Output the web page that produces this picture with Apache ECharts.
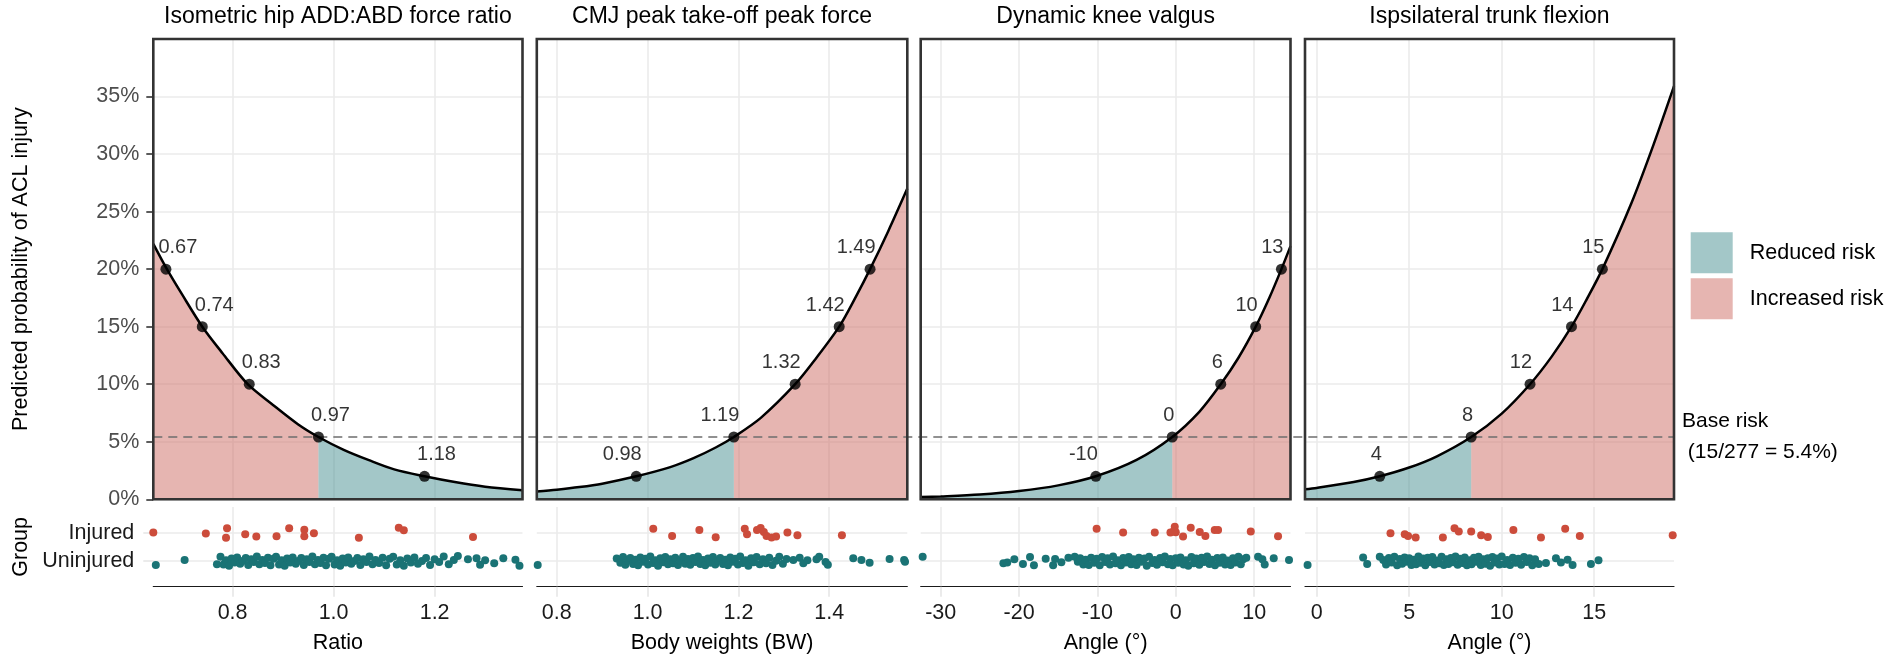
<!DOCTYPE html>
<html>
<head>
<meta charset="utf-8">
<script src="https://cdn.jsdelivr.net/npm/echarts@6/dist/echarts.min.js"></script>
<style>
  html, body { margin: 0; padding: 0; background: #fff; }
  #chart { width: 1890px; height: 655px; }
</style>
</head>
<body>
<div id="chart"></div>
<script>
// ---- data ----
const panelTitles = ["Isometric hip ADD:ABD force ratio", "CMJ peak take-off peak force", "Dynamic knee valgus", "Ispsilateral trunk flexion"];
const axisTitles = ["Ratio", "Body weights (BW)", "Angle (°)", "Angle (°)"];
const groupLabels = ["Uninjured", "Injured"];
const riskNames = ["Reduced risk", "Increased risk"];
const yTicks = [0, 5, 10, 15, 20, 25, 30, 35];
const baseRisk = 5.415;

const xMin = [0.643, 0.756, -32.55, -0.63];
const xMax = [1.374, 1.572, 14.64, 19.31];
const xTicks = [[0.8, 1.0, 1.2], [0.8, 1.0, 1.2, 1.4], [-30, -20, -10, 0, 10], [0, 5, 10, 15]];
const xDigits = [1, 1, 0, 0];
const cutX = [0.97, 1.19, -0.45, 8.35];
const increasedLeft = [true, false, false, false];

// predicted probability curves (%)
const curve1X = [0.643, 0.67, 0.70, 0.74, 0.78, 0.83, 0.88, 0.93, 0.97, 1.02, 1.07, 1.12, 1.18, 1.24, 1.30, 1.374];
const curve1Y = [22.2, 20.0, 17.8, 15.0, 12.7, 10.0, 8.2, 6.5, 5.415, 4.3, 3.4, 2.6, 2.0, 1.5, 1.1, 0.78];
const curve2X = [0.756, 0.80, 0.85, 0.90, 0.975, 1.05, 1.10, 1.15, 1.19, 1.25, 1.325, 1.37, 1.422, 1.46, 1.49, 1.53, 1.572];
const curve2Y = [0.67, 0.83, 1.06, 1.36, 2.0, 2.8, 3.55, 4.5, 5.415, 7.1, 10.0, 12.2, 15.0, 17.7, 20.0, 23.3, 27.0];
const curve3X = [-32.55, -30, -25, -20, -15, -10.2, -5, -0.45, 3, 5.74, 8, 10.2, 12, 13.48, 14.64];
const curve3Y = [0.19, 0.25, 0.42, 0.72, 1.21, 2.0, 3.42, 5.415, 7.6, 10.0, 12.3, 15.0, 17.6, 20.0, 22.0];
const curve4X = [-0.63, 0, 2, 3.41, 5, 6.5, 8.35, 10, 11.53, 12.7, 13.77, 14.6, 15.44, 17, 18.2, 19.31];
const curve4Y = [0.87, 0.99, 1.5, 2.0, 2.76, 3.74, 5.415, 7.45, 10.0, 12.4, 15.0, 17.4, 20.0, 25.7, 30.8, 35.9];

// labelled cut points
const mark1X = [0.668, 0.74, 0.833, 0.97, 1.18];
const mark2X = [0.975, 1.19, 1.325, 1.422, 1.49];
const mark3X = [-10.2, -0.45, 5.74, 10.2, 13.48];
const mark4X = [3.41, 8.35, 11.53, 13.77, 15.44];
const mark1Y = [20, 15, 10, 5.415, 2];
const markUpY = [2, 5.415, 10, 15, 20];
const mark1Labels = ["0.67", "0.74", "0.83", "0.97", "1.18"];
const mark2Labels = ["0.98", "1.19", "1.32", "1.42", "1.49"];
const mark3Labels = ["-10", "0", "6", "10", "13"];
const mark4Labels = ["4", "8", "12", "14", "15"];

// group strip: [value, vertical jitter]
const injured1 = [[0.643,0],[0.747,-0.03],[0.789,0.15],[0.787,-0.18],[0.825,-0.06],[0.847,-0.14],[0.887,-0.13],[0.912,0.15],[0.942,0.1],[0.942,-0.13],[0.961,-0.02],[1.05,-0.18],[1.129,0.17],[1.139,0.08],[1.276,-0.15]];
const injured2 = [[1.0125,0.14],[1.054,-0.12],[1.114,0.09],[1.15,-0.165],[1.214,0.14],[1.219,-0.06],[1.241,0.09],[1.249,0.16],[1.256,0.02],[1.262,-0.12],[1.273,-0.175],[1.283,-0.14],[1.308,0],[1.33,-0.095],[1.428,-0.095]];
const injured3 = [[-10.1,0.14],[-6.72,0],[-2.68,0],[-0.68,0],[-0.13,0.21],[0,0.01],[-0.3,0.04],[0.93,-0.14],[1.91,0.175],[3.06,0.02],[3.78,-0.12],[4.97,0.09],[5.4,0.09],[9.57,0.035],[13.05,-0.13]];
const injured4 = [[3.99,-0.025],[4.76,-0.06],[4.94,-0.12],[5.35,-0.175],[6.82,-0.175],[7.45,0.15],[7.68,0.035],[8.35,0.035],[8.89,-0.095],[9.25,-0.155],[10.63,0.09],[12.12,-0.175],[13.43,0.14],[14.22,-0.12],[19.24,-0.095]];

const uninjured1 = [[0.648,-0.14],[0.705,0.04],[0.769,-0.11],
  [0.776,0.15],[0.782,-0.12],[0.787,0.03],[0.793,-0.16],[0.798,0.09],[0.804,-0.05],[0.809,0.13],[0.815,-0.09],[0.82,0],[0.826,0.11],
  [0.831,-0.14],[0.837,0.06],[0.842,-0.03],[0.848,0.16],[0.853,-0.11],[0.859,0.04],[0.864,-0.07],[0.87,0.12],[0.875,-0.15],[0.881,0.08],
  [0.886,0.15],[0.892,-0.12],[0.897,0.03],[0.903,-0.16],[0.908,0.09],[0.914,-0.05],[0.919,0.13],[0.925,-0.09],[0.93,0],[0.936,0.11],
  [0.941,-0.14],[0.947,0.06],[0.952,-0.03],[0.958,0.16],[0.963,-0.11],[0.969,0.04],[0.974,-0.07],[0.98,0.12],[0.985,-0.15],[0.991,0.08],
  [0.996,0.15],[1.002,-0.12],[1.007,0.03],[1.013,-0.16],[1.018,0.09],[1.024,-0.05],[1.029,0.13],[1.035,-0.09],[1.041,0],[1.047,0.11],
  [1.053,-0.14],[1.059,0.06],[1.065,-0.03],[1.071,0.16],[1.077,-0.11],[1.083,0.04],[1.09,-0.07],[1.097,0.12],[1.104,-0.15],[1.111,0.08],
  [1.118,0.15],[1.125,-0.12],[1.132,0.03],[1.139,-0.16],[1.146,0.09],[1.153,-0.05],[1.16,0.13],[1.167,-0.09],[1.175,0],[1.183,0.11],
  [1.191,-0.14],[1.2,0.06],[1.209,-0.03],[1.218,0.16],[1.228,-0.11],[1.238,0.04],
  [1.246,0.18],[1.266,0.06],[1.283,0.1],[1.29,-0.13],[1.3,0.03],[1.318,-0.08],[1.336,0.1],[1.36,0.05],[1.368,-0.16]];
const uninjured2 = [[0.758,-0.14],
  [0.932,0.09],[0.94,-0.06],[0.946,0.14],[0.951,-0.13],[0.957,0.02],[0.962,0.11],[0.968,-0.1],[0.973,0.05],[0.979,-0.15],[0.984,0.13],
  [0.99,-0.02],[0.995,0.08],[1.001,-0.12],[1.006,0.16],[1.012,-0.07],[1.017,0.03],[1.023,-0.16],[1.028,0.1],[1.034,-0.04],[1.039,0.14],
  [1.045,-0.11],[1.05,0.06],[1.056,-0.08],[1.061,0.12],[1.067,-0.14],[1.072,0.01],[1.078,0.15],[1.083,-0.09],[1.089,0.07],[1.094,-0.13],
  [1.1,0.11],[1.105,-0.03],[1.111,0.16],[1.116,-0.1],[1.122,0.04],[1.127,-0.15],[1.133,0.09],[1.138,-0.06],[1.144,0.14],[1.149,-0.12],
  [1.155,0.02],[1.16,0.11],[1.166,-0.1],[1.171,0.05],[1.177,-0.15],[1.182,0.13],[1.188,-0.02],[1.193,0.08],[1.199,-0.12],[1.204,0.16],
  [1.21,-0.07],[1.216,0.03],[1.222,-0.16],[1.228,0.1],[1.234,-0.04],[1.24,0.14],[1.247,-0.11],[1.254,0.06],[1.261,-0.08],[1.268,0.12],
  [1.275,-0.14],[1.283,0.01],[1.29,0.15],[1.298,-0.09],[1.306,0.07],
  [1.321,0.04],[1.335,0.12],[1.343,-0.08],[1.352,0.03],[1.372,0.06],[1.378,0.15],[1.392,-0.03],[1.397,-0.13],[1.453,0.1],[1.471,0.04],
  [1.489,-0.06],[1.533,0.07],[1.565,0.04],[1.567,-0.02]];
const uninjured3 = [[-32.3,0.155],[-22.0,-0.08],[-21.5,-0.05],[-20.6,0.06],[-19.5,-0.1],[-18.6,0.14],[-18.1,-0.15],[-16.6,0.08],[-15.65,-0.15],[-15.4,0.07],[-14.6,-0.04],[-13.7,0.12],
  [-12.9,0.15],[-12.5,-0.02],[-12.2,0.1],[-11.8,-0.12],[-11.5,0.05],[-11.1,-0.14],[-10.8,0.12],[-10.4,-0.06],[-10.1,0.08],[-9.7,-0.15],
  [-9.4,0.14],[-9.0,-0.03],[-8.7,0.1],[-8.4,-0.12],[-8.0,0.16],[-7.7,-0.08],[-7.4,0.03],[-7.0,-0.15],[-6.7,0.11],[-6.4,-0.05],
  [-6.0,0.14],[-5.7,-0.11],[-5.4,0.06],[-5.0,-0.14],[-4.7,0.12],[-4.4,-0.02],[-4.0,0.09],[-3.7,-0.16],[-3.4,0.15],[-3.0,-0.07],
  [-2.7,0.04],[-2.4,-0.13],[-2.0,0.11],[-1.7,-0.04],[-1.4,0.16],[-1.0,-0.11],[-0.7,0.07],[-0.4,-0.15],[0.0,0.1],[0.3,-0.06],
  [0.6,0.13],[1.0,-0.12],[1.3,0.03],[1.6,-0.16],[2.0,0.14],[2.3,-0.08],[2.6,0.09],[3.0,-0.13],[3.3,0.12],[3.6,-0.03],
  [4.0,0.16],[4.3,-0.1],[4.6,0.05],[5.0,-0.15],[5.3,0.11],[5.6,-0.06],[6.0,0.13],[6.3,-0.12],[6.6,0.02],[7.0,-0.14],
  [7.3,0.1],[7.6,-0.05],[8.0,0.15],[8.3,-0.11],[8.6,0.06],[9.0,0.12],
  [10.5,0.15],[11.05,0.06],[11.35,-0.12],[12.5,0.1],[14.45,0.04]];
const uninjured4 = [[-0.49,-0.14],[2.51,0.13],[2.73,-0.1],[3.41,0.15],
  [3.6,0.04],[3.75,-0.12],[3.9,0.11],[4.05,-0.05],[4.2,0.15],[4.35,-0.15],[4.5,0.07],[4.62,-0.09],[4.75,0.13],[4.87,-0.02],
  [5.0,0.1],[5.12,-0.14],[5.25,0.05],[5.37,-0.11],[5.5,0.16],[5.62,-0.06],[5.75,0.09],[5.87,-0.15],[6.0,0.12],[6.12,-0.03],
  [6.25,0.14],[6.37,-0.12],[6.5,0.02],[6.62,-0.08],[6.75,0.15],[6.87,-0.14],[7.0,0.06],[7.12,-0.1],[7.25,0.11],[7.37,-0.04],
  [7.5,0.16],[7.62,-0.13],[7.75,0.08],[7.87,-0.07],[8.0,0.13],[8.12,-0.15],[8.25,0.03],[8.37,-0.11],[8.5,0.12],[8.62,-0.02],
  [8.75,0.15],[8.87,-0.14],[9.0,0.06],[9.12,-0.09],[9.25,0.1],[9.37,-0.16],[9.5,0.14],[9.62,-0.05],[9.75,0.09],[9.87,-0.12],
  [10.0,0.16],[10.15,-0.1],[10.3,0.04],[10.45,-0.14],[10.6,0.12],[10.75,-0.06],[10.9,0.08],[11.05,-0.13],[11.2,0.14],[11.35,-0.03],
  [11.5,0.1],[11.65,-0.15],[11.8,0.06],[12.0,-0.1],
  [12.39,-0.07],[12.93,0.1],[13.2,-0.05],[13.56,0.05],[13.83,-0.14],[14.82,-0.1],[15.23,0.03]];

const curvesX = [curve1X, curve2X, curve3X, curve4X];
const curvesY = [curve1Y, curve2Y, curve3Y, curve4Y];
const marksX = [mark1X, mark2X, mark3X, mark4X];
const marksY = [mark1Y, markUpY, markUpY, markUpY];
const marksLabels = [mark1Labels, mark2Labels, mark3Labels, mark4Labels];
const injuredPts = [injured1, injured2, injured3, injured4];
const uninjuredPts = [uninjured1, uninjured2, uninjured3, uninjured4];

// ---- layout / style ----
const FONT = '"Liberation Sans", Arial, sans-serif';
const panelLeft = [153.3, 536.8, 920.7, 1305];
const panelWidth = [369.2, 370.5, 369.8, 369];
const topY = 39, topH = 460.3, stripY = 507, stripH = 79.7;
const reducedFill = "rgba(71,143,145,0.5)", increasedFill = "rgba(205,107,99,0.5)";
const reducedKey = "#A3C7C8", increasedKey = "#E6B5B1";
const gridGrey = "#EBEBEB";
const SMOOTH = 0.3;

const chart = echarts.init(document.getElementById("chart"));

const grids = [], xAxes = [], yAxes = [], series = [];
for (let i = 0; i < 4; i++) {
  grids.push({ left: panelLeft[i], top: topY, width: panelWidth[i], height: topH,
    show: true, borderColor: "#333333", borderWidth: 2.6, backgroundColor: "transparent", z: 6 });
}
for (let i = 0; i < 4; i++) {
  grids.push({ left: panelLeft[i], top: stripY, width: panelWidth[i], height: stripH, show: false });
}
grids.push({ left: panelLeft[0], top: topY, width: panelLeft[3] + panelWidth[3] - panelLeft[0], height: topH, show: false });

for (let i = 0; i < 4; i++) {
  // top panels
  xAxes.push({
    gridIndex: i, type: "value", min: xMin[i], max: xMax[i],
    axisLine: { show: false },
    axisTick: { show: false, customValues: xTicks[i] },
    axisLabel: { show: false, customValues: xTicks[i] },
    splitLine: { show: true, lineStyle: { color: gridGrey, width: 1.6 } }
  });
  yAxes.push({
    gridIndex: i, type: "value", min: 0, max: 40,
    axisLine: { show: false },
    axisTick: { show: i === 0, length: 7, lineStyle: { color: "#333333", width: 1.6 }, customValues: yTicks },
    axisLabel: { show: i === 0, customValues: yTicks, formatter: "{value}%", color: "#4D4D4D", fontSize: 21.5, margin: 14, fontFamily: FONT },
    splitLine: { show: true, lineStyle: { color: gridGrey, width: 1.6 } },
    name: i === 0 ? "Predicted probability of ACL injury" : "",
    nameLocation: "middle", nameGap: 121,
    nameTextStyle: { color: "#000", fontSize: 21.5, fontFamily: FONT }
  });
}
for (let i = 0; i < 4; i++) {
  // group strips
  const digits = xDigits[i];
  xAxes.push({
    gridIndex: 4 + i, type: "value", min: xMin[i], max: xMax[i],
    axisLine: { show: true, lineStyle: { color: "#1A1A1A", width: 1.2 } },
    axisTick: { show: true, length: 10, lineStyle: { color: "#E6E6E6", width: 1.6 }, customValues: xTicks[i] },
    axisLabel: { customValues: xTicks[i], formatter: v => Number(v).toFixed(digits), color: "#1A1A1A", fontSize: 21.5, margin: 15, fontFamily: FONT },
    splitLine: { show: true, lineStyle: { color: gridGrey, width: 1.6 } },
    name: axisTitles[i], nameLocation: "middle", nameGap: 45,
    nameTextStyle: { color: "#000", fontSize: 21.5, fontFamily: FONT }
  });
  yAxes.push({
    gridIndex: 4 + i, type: "value", min: 0.1, max: 2.9,
    axisLine: { show: false },
    axisTick: { show: i === 0, length: 10, lineStyle: { color: "#E6E6E6", width: 1.6 }, customValues: [1, 2] },
    axisLabel: { show: i === 0, customValues: [1, 2], formatter: v => groupLabels[Math.round(v) - 1], color: "#1A1A1A", fontSize: 21.5, margin: 19, fontFamily: FONT },
    splitLine: { show: true, lineStyle: { color: gridGrey, width: 1.6 } },
    name: i === 0 ? "Group" : "", nameLocation: "middle", nameGap: 121,
    nameTextStyle: { color: "#000", fontSize: 21.5, fontFamily: FONT }
  });
}
xAxes.push({ gridIndex: 8, type: "value", min: 0, max: 1, show: false });
yAxes.push({ gridIndex: 8, type: "value", min: 0, max: 40, show: false });

for (let i = 0; i < 4; i++) {
  const pts = curvesX[i].map((x, k) => [x, curvesY[i][k]]);
  const leftPart = pts.filter(p => p[0] <= cutX[i]);
  const rightPart = pts.filter(p => p[0] >= cutX[i]);
  const incPart = increasedLeft[i] ? leftPart : rightPart;
  const redPart = increasedLeft[i] ? rightPart : leftPart;
  const areaBase = { type: "line", xAxisIndex: i, yAxisIndex: i, symbol: "none", smooth: SMOOTH,
    lineStyle: { width: 0 }, silent: true, z: 2 };
  series.push(Object.assign({}, areaBase, { name: riskNames[1], data: incPart, color: increasedKey, areaStyle: { color: increasedFill, opacity: 1 } }));
  series.push(Object.assign({}, areaBase, { name: riskNames[0], data: redPart, color: reducedKey, areaStyle: { color: reducedFill, opacity: 1 } }));
  series.push({ type: "line", xAxisIndex: i, yAxisIndex: i, data: pts, symbol: "none", smooth: SMOOTH,
    lineStyle: { color: "#000", width: 2.5 }, silent: true, z: 4 });

  const labels = marksLabels[i];
  series.push({
    type: "scatter", xAxisIndex: i, yAxisIndex: i, z: 5, silent: true,
    data: marksX[i].map((x, k) => [x, marksY[i][k]]),
    symbolSize: 11, itemStyle: { color: "#000" },
    label: {
      show: true, position: "top", distance: 6,
      align: i === 0 ? "left" : "right",
      offset: [i === 0 ? -7.5 : (i === 1 ? 5.5 : 2), 0],
      formatter: p => labels[p.dataIndex],
      color: "#000", fontSize: 20, fontFamily: FONT
    }
  });

  series.push({ type: "scatter", xAxisIndex: 4 + i, yAxisIndex: 4 + i, silent: true, z: 3,
    data: uninjuredPts[i].map(p => [p[0], 1 + p[1]]), symbolSize: 8, itemStyle: { color: "#1A7375", opacity: 1 } });
  series.push({ type: "scatter", xAxisIndex: 4 + i, yAxisIndex: 4 + i, silent: true, z: 3,
    data: injuredPts[i].map(p => [p[0], 2 + p[1]]), symbolSize: 8, itemStyle: { color: "#CC4C3B", opacity: 1 } });
}

// base risk reference line across all four panels
series.push({
  type: "line", xAxisIndex: 8, yAxisIndex: 8, data: [[0, baseRisk], [1, baseRisk]],
  symbol: "none", silent: true, z: 3,
  lineStyle: { color: "#6E6E6E", width: 1.5, type: [9, 6] },
  endLabel: { show: true, formatter: "Base risk\n (15/277 = 5.4%)", color: "#000", fontSize: 21, lineHeight: 31, distance: 8, fontFamily: FONT }
});

const option = {
  animation: false,
  backgroundColor: "#fff",
  textStyle: { fontFamily: FONT },
  title: panelTitles.map((t, i) => ({
    text: t, left: panelLeft[i] + panelWidth[i] / 2, top: 5, textAlign: "center", padding: 0,
    textStyle: { fontSize: 23, fontWeight: "normal", color: "#000", fontFamily: FONT }
  })),
  legend: {
    orient: "vertical", left: 1690.7, top: 232.3, padding: 0,
    itemWidth: 42, itemHeight: 41, itemGap: 5, selectedMode: false,
    data: [
      { name: riskNames[0], icon: "rect", itemStyle: { color: reducedKey, borderWidth: 0 } },
      { name: riskNames[1], icon: "rect", itemStyle: { color: increasedKey, borderWidth: 0 } }
    ],
    textStyle: { fontSize: 21.5, color: "#000", padding: [0, 0, 0, 12], fontFamily: FONT }
  },
  grid: grids,
  xAxis: xAxes,
  yAxis: yAxes,
  series: series
};
chart.setOption(option);
</script>
</body>
</html>
